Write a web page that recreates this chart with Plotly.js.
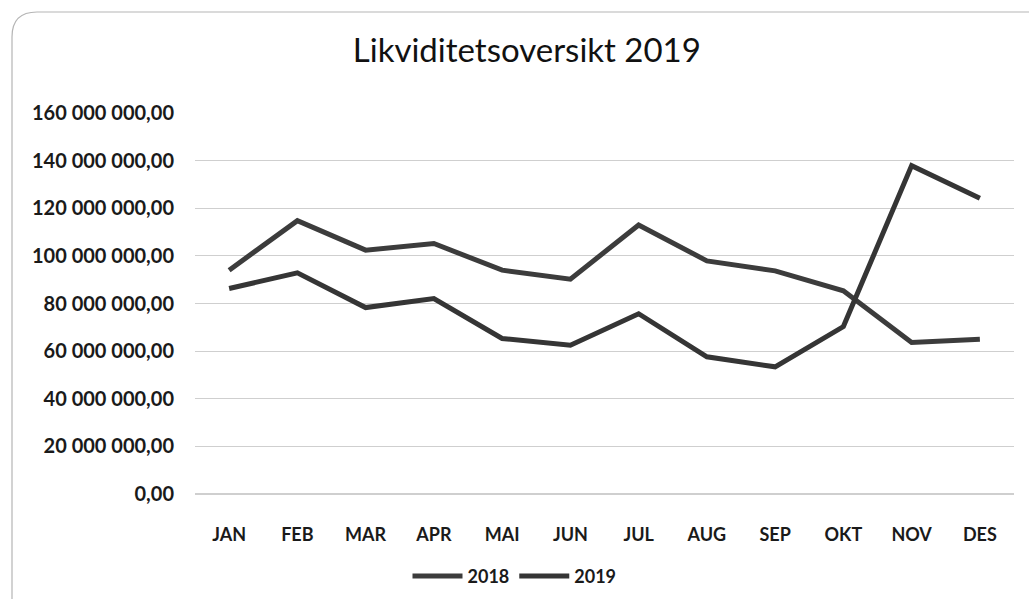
<!DOCTYPE html>
<html>
<head>
<meta charset="utf-8">
<script src="https://cdn.plot.ly/plotly-3.0.1.min.js"></script>
<style>
  html, body { margin: 0; padding: 0; background: #fff; }
  #chart { width: 1029px; height: 599px; }
</style>
</head>
<body>
<div id="chart"></div>
<script>
var months = ["JAN", "FEB", "MAR", "APR", "MAI", "JUN", "JUL", "AUG", "SEP", "OKT", "NOV", "DES"];
var values2018 = [94000000, 114800000, 102400000, 105200000, 94000000, 90200000, 113000000, 97900000, 93700000, 85300000, 63600000, 65000000];
var values2019 = [86300000, 92900000, 78300000, 82100000, 65300000, 62500000, 75700000, 57600000, 53400000, 70300000, 137900000, 124200000];
var yTicks = [0, 20000000, 40000000, 60000000, 80000000, 100000000, 120000000, 140000000, 160000000];

var lineColor = "#3c3c3c";

var trace1 = {
  x: months,
  y: values2018,
  name: "2018",
  type: "scatter",
  mode: "lines",
  line: { color: lineColor, width: 5 }
};
var trace2 = {
  x: months,
  y: values2019,
  name: "2019",
  type: "scatter",
  mode: "lines",
  line: { color: "#353535", width: 5 }
};

// rounded frame around the chart (paper units, plot area = 195..1014 x 113..494)
var rx = 25 / 819, ry = 25 / 381;
var fl = -183 / 819, ft = 482 / 381;
var framePath = "M " + fl + "," + (-1) + " L " + fl + "," + (ft - ry) +
  " Q " + fl + "," + ft + " " + (fl + rx) + "," + ft + " L 1.2," + ft;

var layout = {
  width: 1029,
  height: 599,
  paper_bgcolor: "#ffffff",
  plot_bgcolor: "#ffffff",
  separators: ", ",
  margin: { l: 195, r: 15, t: 113, b: 105, autoexpand: false },
  font: { family: "Lato, 'Open Sans', sans-serif", color: "#1a1a1a" },
  title: {
    text: "Likviditetsoversikt 2019",
    font: { family: "Lato, 'Open Sans', sans-serif", size: 33, color: "#111" },
    x: 0.512,
    xanchor: "center",
    y: 0.915,
    yanchor: "middle"
  },
  xaxis: {
    type: "category",
    range: [-0.5, 11.5],
    showgrid: false,
    showline: false,
    ticks: "",
    tickfont: { size: 18, weight: "bold" },
    ticklabelstandoff: 28
  },
  yaxis: {
    range: [0, 160000000],
    tickvals: yTicks,
    tickformat: ",.2f",
    showgrid: true,
    gridcolor: "#cfcfcf",
    gridwidth: 1.2,
    zeroline: true,
    zerolinecolor: "#cfcfcf",
    zerolinewidth: 1.2,
    showline: false,
    ticks: "",
    tickfont: { size: 20, weight: "bold" },
    ticklabelstandoff: 20
  },
  showlegend: true,
  legend: {
    orientation: "h",
    xref: "container",
    yref: "container",
    x: 0.5,
    xanchor: "center",
    y: 0.038,
    yanchor: "middle",
    font: { size: 18, weight: "bold" },
    itemwidth: 50
  },
  shapes: [{
    type: "path",
    xref: "paper",
    yref: "paper",
    path: framePath,
    line: { color: "#b5b5b5", width: 1.2 }
  }]
};

Plotly.newPlot("chart", [trace1, trace2], layout, { displayModeBar: false, staticPlot: true });
</script>
</body>
</html>
